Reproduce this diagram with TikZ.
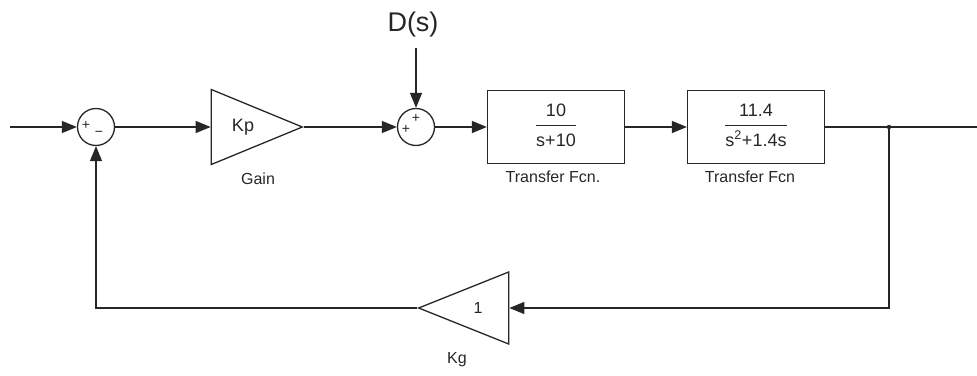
\documentclass[tikz,border=0pt]{standalone}
\usepackage{fontspec}
\setmainfont{Liberation Sans}
\usetikzlibrary{arrows.meta,positioning,shapes.geometric}

\newcommand{\tfrac}[2]{%
  \setlength{\arrayrulewidth}{1.5pt}%
  \renewcommand{\arraystretch}{1.05}%
  \begin{tabular}{@{}c@{}}#1\\[2pt]\hline\rule{0pt}{20pt}#2\end{tabular}}

\begin{document}
\begin{tikzpicture}[x=1pt, y=-1pt, color=black!85, line width=1.3pt,
  sumnode/.style={draw, circle, minimum size=37pt, inner sep=0pt},
  tfbox/.style={draw, rectangle, minimum width=137pt, minimum height=73pt,
                inner sep=0pt, font=\fontsize{18}{20}\selectfont},
  gainblk/.style={draw, isosceles triangle, isosceles triangle stretches,
                  inner sep=0pt, anchor=apex},
  lbl/.style={font=\fontsize{16}{18}\selectfont, inner sep=0pt},
  sgn/.style={font=\fontsize{14}{14}\selectfont, inner sep=0pt},
  arr/.style={-{Triangle[length=15pt,width=12pt]}}
]
\useasboundingbox (0,0) rectangle (977,375);

% blocks
\node[sumnode] (sum1) at (96,127) {};
\node[gainblk, minimum width=75pt, minimum height=91pt] (gain) at (304,127) {};
\node[sumnode] (sum2) at (416,127) {};
\node[tfbox] (tf1) at (556,127) {\tfrac{10}{s+10}};
\node[tfbox] (tf2) at (756,127) {\tfrac{11.4}{s\textsuperscript{2}+1.4s}};
\node[gainblk, shape border rotate=180, minimum width=72pt, minimum height=90pt] (kg) at (417,308) {};

% texts in and under the blocks
\node[font=\fontsize{18}{20}\selectfont] (kp) at (243,127) {Kp};
\node[font=\fontsize{16}{18}\selectfont] (one) at (478,308) {1};
\node[lbl] (gainlbl) at (258,179) {Gain};
\node[lbl] (tf1lbl) at (553,177) {Transfer Fcn.};
\node[lbl] (tf2lbl) at (750,177) {Transfer Fcn};
\node[lbl] (kglbl) at (457,360) {Kg};
\node[font=\fontsize{27}{30}\selectfont] (dist) at (413,25) {D(s)};

% signs
\node[sgn] (s1a) at (86,125) {+};
\node[sgn] (s1b) at (99,134) {−};
\node[sgn] (s2a) at (406,129) {+};
\node[sgn] (s2b) at (416,118) {+};

% connectors
\coordinate (in) at (10,127);
\coordinate (dtop) at (416,48);
\coordinate (branch) at (889,127);
\coordinate (out) at (977,127);
\draw[arr] (in) -- (sum1.west);
\draw[arr] (sum1.east) -- (gain.lower side);
\draw[arr] (gain.apex) -- (sum2.west);
\draw[arr] (dtop) -- (sum2.north);
\draw[arr] (sum2.east) -- (tf1.west);
\draw[arr] (tf1.east) -- (tf2.west);
\draw (tf2.east) -- (branch) -- (out);
\fill (branch) circle (2.2pt);
\draw[arr] (branch) |- (kg.lower side);
\draw[arr] (kg.apex) -| (sum1.south);
\end{tikzpicture}
\end{document}
